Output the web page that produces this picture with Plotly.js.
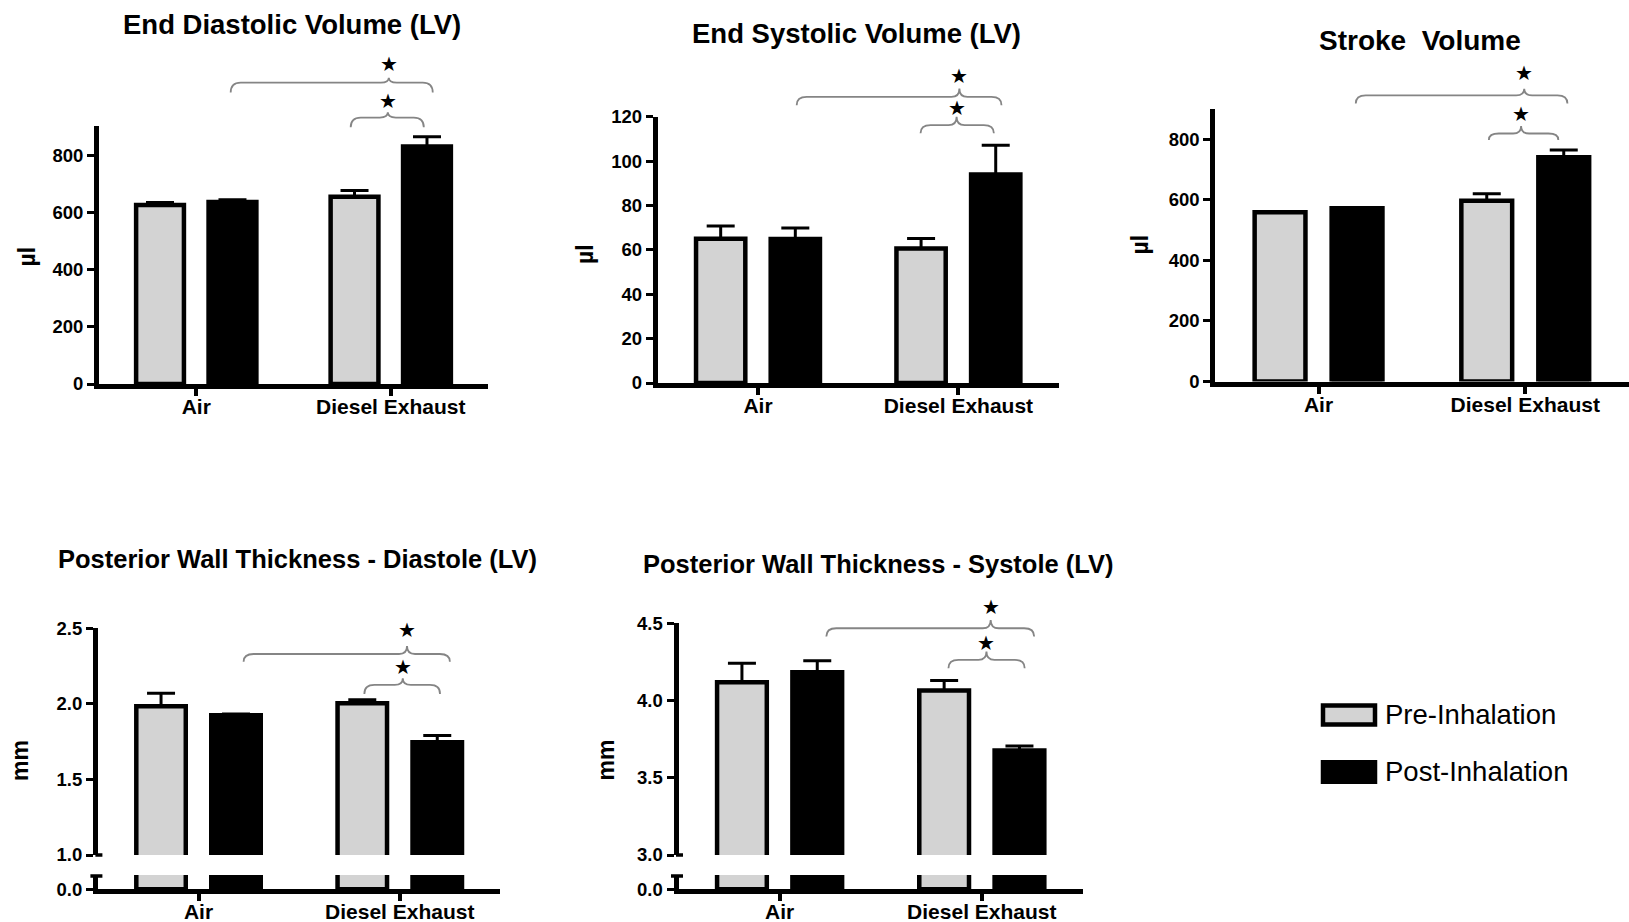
<!DOCTYPE html>
<html>
<head>
<meta charset="utf-8">
<script src="https://cdn.plot.ly/plotly-3.0.1.min.js"></script>
<style>
html,body{margin:0;padding:0;background:#ffffff;}
#chart{width:1629px;height:922px;}
</style>
</head>
<body>
<div id="chart"></div>
<script>
// ---------------- DATA ----------------
const categories = ['Air', 'Diesel Exhaust'];
const seriesNames = ['Pre-Inhalation', 'Post-Inhalation'];

// End Diastolic Volume (LV), µl
const edvPre = [625, 654];
const edvPreErr = [9, 22];
const edvPost = [636, 830];
const edvPostErr = [8, 34];

// End Systolic Volume (LV), µl
const esvPre = [65.0, 60.6];
const esvPreErr = [5.8, 4.5];
const esvPost = [64.9, 94.0];
const esvPostErr = [4.9, 13.1];

// Stroke Volume, µl
const svPre = [559, 597];
const svPreErr = [0, 23];
const svPost = [572, 741];
const svPostErr = [0, 24];

// Posterior Wall Thickness - Diastole (LV), mm
const pwtdPre = [1.984, 2.004];
const pwtdPreErr = [0.087, 0.023];
const pwtdPost = [1.925, 1.746];
const pwtdPostErr = [0.008, 0.044];

// Posterior Wall Thickness - Systole (LV), mm
const pwtsPre = [4.119, 4.065];
const pwtsPreErr = [0.123, 0.065];
const pwtsPost = [4.183, 3.676];
const pwtsPostErr = [0.074, 0.030];

const panelTitles = ['End Diastolic Volume (LV)', 'End Systolic Volume (LV)', 'Stroke\u00A0 Volume',
  'Posterior Wall Thickness - Diastole (LV)', 'Posterior Wall Thickness - Systole (LV)'];
const unitLabels = ['µl', 'µl', 'µl', 'mm', 'mm'];

const edvTicks = [0, 200, 400, 600, 800];
const esvTicks = [0, 20, 40, 60, 80, 100, 120];
const svTicks = [0, 200, 400, 600, 800];
const pwtdTicks = [1.0, 1.5, 2.0, 2.5];
const pwtsTicks = [3.0, 3.5, 4.0, 4.5];
const brokenLowTicks = [0.0];

// ---------------- LAYOUT / STYLE ----------------
const W = 1629, H = 922;
const FONT = 'Liberation Sans, Arial, sans-serif';
const fills = ['#d3d3d3', '#000000'];

const panels = [
  { title: panelTitles[0], unit: unitLabels[0], pre: edvPre, preErr: edvPreErr, post: edvPost, postErr: edvPostErr,
    xPx: [99, 488], yPx: [384, 126.4], yRange: [0, 900], ticks: edvTicks, dec: 0,
    titlePos: [291.5, 25], titleSize: 27.5, unitPos: [26.7, 256.7],
    brackets: [
      { x0: 0.177, x1: 1.216, xc: 0.99, yl: 1053, ye: 1018, yp: 1070, ys: 1119 },
      { x0: 0.794, x1: 1.17, xc: 0.985, yl: 931, ye: 897, yp: 949, ys: 990 } ] },
  { title: panelTitles[1], unit: unitLabels[1], pre: esvPre, preErr: esvPreErr, post: esvPost, postErr: esvPostErr,
    xPx: [657.8, 1058.6], yPx: [383, 116.7], yRange: [0, 120], ticks: esvTicks, dec: 0,
    titlePos: [856, 33.5], titleSize: 27.5, unitPos: [585, 254],
    brackets: [
      { x0: 0.193, x1: 1.215, xc: 1.005, yl: 128.9, ye: 125.2, yp: 132.7, ys: 138.2 },
      { x0: 0.811, x1: 1.177, xc: 0.991, yl: 116.2, ye: 112.5, yp: 120.0, ys: 124.1 } ] },
  { title: panelTitles[2], unit: unitLabels[2], pre: svPre, preErr: svPreErr, post: svPost, postErr: svPostErr,
    xPx: [1215.2, 1628.6], yPx: [381.5, 109], yRange: [0, 900], ticks: svTicks, dec: 0,
    titlePos: [1420, 40.5], titleSize: 28, unitPos: [1139.5, 245],
    brackets: [
      { x0: 0.18, x1: 1.204, xc: 0.995, yl: 945, ye: 918, yp: 967, ys: 1018 },
      { x0: 0.824, x1: 1.16, xc: 0.98, yl: 819, ye: 798, yp: 844, ys: 885 } ] },
  { title: panelTitles[3], unit: unitLabels[3], pre: pwtdPre, preErr: pwtdPreErr, post: pwtdPost, postErr: pwtdPostErr,
    xPx: [97.9, 500.4], yPx: [855, 628.3], yRange: [1.0, 2.5], ticks: pwtdTicks, dec: 1,
    lowPx: [889.2, 875], lowRange: [0, 0.2], lowTicks: brokenLowTicks,
    titlePos: [297.3, 559], titleSize: 25.5, unitPos: [20, 761],
    brackets: [
      { x0: 0.224, x1: 1.249, xc: 1.036, yl: 2.330, ye: 2.279, yp: 2.383, ys: 2.489 },
      { x0: 0.824, x1: 1.2, xc: 1.015, yl: 2.125, ye: 2.066, yp: 2.169, ys: 2.242 } ] },
  { title: panelTitles[4], unit: unitLabels[4], pre: pwtsPre, preErr: pwtsPreErr, post: pwtsPost, postErr: pwtsPostErr,
    xPx: [678.5, 1082.9], yPx: [855, 623.3], yRange: [3.0, 4.5], ticks: pwtsTicks, dec: 1,
    lowPx: [889.2, 875], lowRange: [0, 0.2], lowTicks: brokenLowTicks,
    titlePos: [878, 564], titleSize: 25.5, unitPos: [605.5, 760],
    brackets: [
      { x0: 0.231, x1: 1.259, xc: 1.044, yl: 4.468, ye: 4.414, yp: 4.522, ys: 4.604 },
      { x0: 0.835, x1: 1.212, xc: 1.023, yl: 4.263, ye: 4.209, yp: 4.317, ys: 4.375 } ] }
];

const X_RANGE = [-0.5, 1.5];
const fx = px => px / W;
const fy = py => 1 - py / H;
function mapX(p, v) { return p.xPx[0] + (v - X_RANGE[0]) / (X_RANGE[1] - X_RANGE[0]) * (p.xPx[1] - p.xPx[0]); }
function mapY(p, v) { return p.yPx[0] + (v - p.yRange[0]) / (p.yRange[1] - p.yRange[0]) * (p.yPx[1] - p.yPx[0]); }

const data = [];
const layout = {
  width: W, height: H,
  margin: { l: 0, r: 0, t: 0, b: 0, pad: 0 },
  paper_bgcolor: '#ffffff', plot_bgcolor: 'rgba(0,0,0,0)',
  barmode: 'group', bargap: 0.255, bargroupgap: 0.34,
  showlegend: false,
  font: { family: FONT, color: '#000' },
  shapes: [], annotations: []
};

let axisCount = 0;
function addSubplot(p, yPx, yRange, ticks, showX, withErr) {
  axisCount += 1;
  const sfx = axisCount === 1 ? '' : String(axisCount);
  const xId = 'x' + sfx, yId = 'y' + sfx;
  layout['xaxis' + sfx] = {
    domain: [fx(p.xPx[0]), fx(p.xPx[1])], range: X_RANGE.slice(), anchor: yId, visible: showX,
    showline: true, linewidth: 5, linecolor: '#000',
    ticks: 'outside', ticklen: 7, tickwidth: 4, tickcolor: '#000',
    ticklabelstandoff: -7,
    tickmode: 'array', tickvals: [0, 1], ticktext: categories,
    tickfont: { family: FONT, size: 21, color: '#000', weight: 700 },
    showgrid: false, zeroline: false, fixedrange: true
  };
  layout['yaxis' + sfx] = {
    domain: [fy(yPx[0]), fy(yPx[1])], range: yRange, anchor: xId,
    showline: true, linewidth: 5, linecolor: '#000',
    ticks: 'outside', ticklen: 7, tickwidth: 3, tickcolor: '#000',
    tickmode: 'array', tickvals: ticks, ticktext: ticks.map(t => t.toFixed(p.dec)),
    tickfont: { family: FONT, size: 18.5, color: '#000', weight: 700 },
    showgrid: false, zeroline: false, fixedrange: true
  };
  [[p.pre, p.preErr], [p.post, p.postErr]].forEach(([vals, errs], i) => {
    data.push({
      type: 'bar', x: [0, 1], y: vals, name: seriesNames[i], xaxis: xId, yaxis: yId,
      marker: { color: fills[i], line: { color: '#000', width: 4.5 } },
      error_y: withErr ? { type: 'data', symmetric: false, array: errs, arrayminus: [0, 0],
        color: '#000', thickness: 3, width: 14 } : { visible: false },
      hoverinfo: 'skip', showlegend: false
    });
  });
}

panels.forEach(p => {
  if (p.lowPx) {
    addSubplot(p, p.yPx, p.yRange, p.ticks, false, true);
    addSubplot(p, p.lowPx, p.lowRange, p.lowTicks, true, false);
    const ax = p.xPx[0] - 2.5;
    // axis break caps
    layout.shapes.push({ type: 'line', xref: 'paper', yref: 'paper', x0: fx(ax), x1: fx(ax + 7),
      y0: fy(p.yPx[0]), y1: fy(p.yPx[0]), line: { color: '#000', width: 3.5 } });
    layout.shapes.push({ type: 'line', xref: 'paper', yref: 'paper', x0: fx(ax - 5), x1: fx(ax + 7),
      y0: fy(p.lowPx[1] + 1), y1: fy(p.lowPx[1] + 1), line: { color: '#000', width: 3.5 } });
  } else {
    addSubplot(p, p.yPx, p.yRange, p.ticks, true, true);
  }
  layout.annotations.push({ xref: 'paper', yref: 'paper', x: fx(p.titlePos[0]), y: fy(p.titlePos[1]),
    xanchor: 'center', yanchor: 'middle', showarrow: false, text: p.title,
    font: { family: FONT, size: p.titleSize, color: '#000', weight: 700 } });
  layout.annotations.push({ xref: 'paper', yref: 'paper', x: fx(p.unitPos[0]), y: fy(p.unitPos[1]),
    xanchor: 'center', yanchor: 'middle', showarrow: false, text: p.unit, textangle: -90,
    font: { family: FONT, size: 23, color: '#000', weight: 700 } });
  p.brackets.forEach(b => {
    const X0 = mapX(p, b.x0), X1 = mapX(p, b.x1), XC = mapX(p, b.xc);
    const YL = mapY(p, b.yl), YE = mapY(p, b.ye), YP = mapY(p, b.yp);
    const r = 10, rc = 8;
    const P = (x, y) => fx(x).toFixed(5) + ',' + fy(y).toFixed(5);
    const path = 'M' + P(X0, YE) + ' Q' + P(X0, YL) + ' ' + P(X0 + r, YL) +
      ' L' + P(XC - rc, YL) + ' Q' + P(XC, YL) + ' ' + P(XC, YP) +
      ' Q' + P(XC, YL) + ' ' + P(XC + rc, YL) + ' L' + P(X1 - r, YL) +
      ' Q' + P(X1, YL) + ' ' + P(X1, YE);
    layout.shapes.push({ type: 'path', xref: 'paper', yref: 'paper', path: path,
      line: { color: '#858585', width: 1.8 } });
    layout.annotations.push({ xref: 'paper', yref: 'paper', x: fx(XC), y: fy(mapY(p, b.ys)),
      xanchor: 'center', yanchor: 'middle', showarrow: false, text: '★',
      font: { family: 'DejaVu Sans', size: 20, color: '#000' } });
  });
});

const legendRows = [
  { box: [1323, 1375, 705.5, 724.5], textPos: [1382.5, 714.5] },
  { box: [1323, 1375, 762.2, 781.8], textPos: [1382.5, 771.7] }
];
legendRows.forEach((row, i) => {
  layout.shapes.push({ type: 'rect', xref: 'paper', yref: 'paper',
    x0: fx(row.box[0]), x1: fx(row.box[1]), y0: fy(row.box[3]), y1: fy(row.box[2]),
    fillcolor: fills[i], line: { color: '#000', width: 4.5 } });
  layout.annotations.push({ xref: 'paper', yref: 'paper', x: fx(row.textPos[0]), y: fy(row.textPos[1]),
    xanchor: 'left', yanchor: 'middle', showarrow: false, text: seriesNames[i],
    font: { family: FONT, size: 27.5, color: '#000' } });
});

Plotly.newPlot('chart', data, layout, { staticPlot: true, displayModeBar: false });
</script>
</body>
</html>
